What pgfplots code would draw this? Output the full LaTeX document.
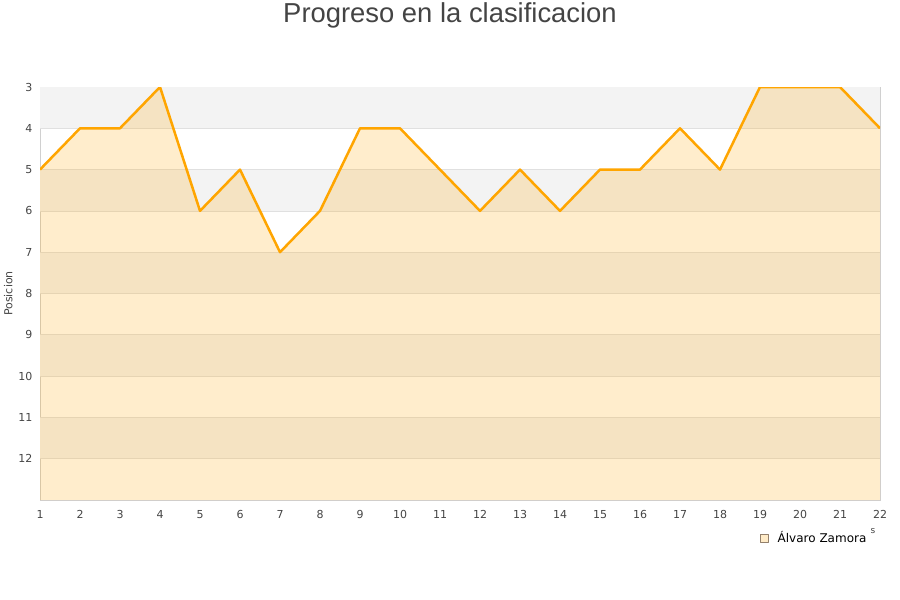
\documentclass[border=0pt]{standalone}
\usepackage{fontspec}
\setmainfont{DejaVu Sans}
\newfontfamily\titlefont{Liberation Sans}
\usepackage{pgfplots}
\pgfplotsset{compat=1.18}
\definecolor{lineorange}{HTML}{FFA500}
\definecolor{bandgray}{HTML}{F3F3F3}
\definecolor{gridc}{HTML}{E0E0E0}
\definecolor{axisc}{HTML}{D0D0D0}
\definecolor{txt}{HTML}{444444}
\begin{document}
\begin{tikzpicture}
\useasboundingbox (0pt,0pt) rectangle (900pt,600pt);
\node[font=\titlefont\fontsize{27.4}{32}\selectfont, text=txt] at (450pt,585pt) {Progreso en la clasificacion};
\begin{axis}[
    at={(40pt,100pt)}, anchor=south west,
    scale only axis,
    width=840pt, height=413pt,
    xmin=1, xmax=22,
    ymin=3, ymax=13,
    y dir=reverse,
    xtick={1,...,22},
    ytick={3,...,12},
    tick style={draw=none},
    axis line style={draw=axisc},
    ticklabel style={font=\fontsize{11}{13}\selectfont, text=txt},
    xticklabel style={yshift=-7pt},
    yticklabel style={xshift=-4pt},
    /pgf/number format/assume math mode=true,
    ylabel={Posicion},
    ylabel style={font=\fontsize{11}{13}\selectfont, text=txt, at={(rel axis cs:0,0.5)}, anchor=south, yshift=24pt},
    legend style={draw=none, fill=none, font=\fontsize{12}{14}\selectfont, text=black,
        at={(rel axis cs:0.9219,-0.092)}, anchor=center},
    legend image code/.code={
        \path[draw=none] (0pt,0pt) -- (15pt,0pt);
        \draw[fill=lineorange!22, draw=gray!70!brown, line width=0.6pt] (0pt,-4pt) rectangle (8pt,4pt);},
    clip=true,
]
% alternating background bands
\foreach \y in {3,5,7,9,11} {
  \edef\tmp{\noexpand\fill[bandgray] (axis cs:1,\y) rectangle (axis cs:22,\y+1);}
  \tmp
}
\foreach \y in {4,...,12} {
  \edef\tmp{\noexpand\draw[gridc, line width=0.8pt] (axis cs:1,\y) -- (axis cs:22,\y);}
  \tmp
}
\addplot[fill=lineorange, fill opacity=0.2, draw=none, forget plot] coordinates {
  (1,13) (1,5) (2,4) (3,4) (4,3) (5,6) (6,5) (7,7) (8,6) (9,4) (10,4) (11,5)
  (12,6) (13,5) (14,6) (15,5) (16,5) (17,4) (18,5) (19,3) (20,3) (21,3) (22,4) (22,13)
} -- cycle;
\addplot[lineorange, line width=2.5pt, line join=round, mark=none] coordinates {
  (1,5) (2,4) (3,4) (4,3) (5,6) (6,5) (7,7) (8,6) (9,4) (10,4) (11,5)
  (12,6) (13,5) (14,6) (15,5) (16,5) (17,4) (18,5) (19,3) (20,3) (21,3) (22,4)
};
\addlegendentry{Álvaro Zamora}
\end{axis}
\node[font=\fontsize{9}{10}\selectfont, text=txt] at (873pt,69pt) {s};
\end{tikzpicture}
\end{document}
